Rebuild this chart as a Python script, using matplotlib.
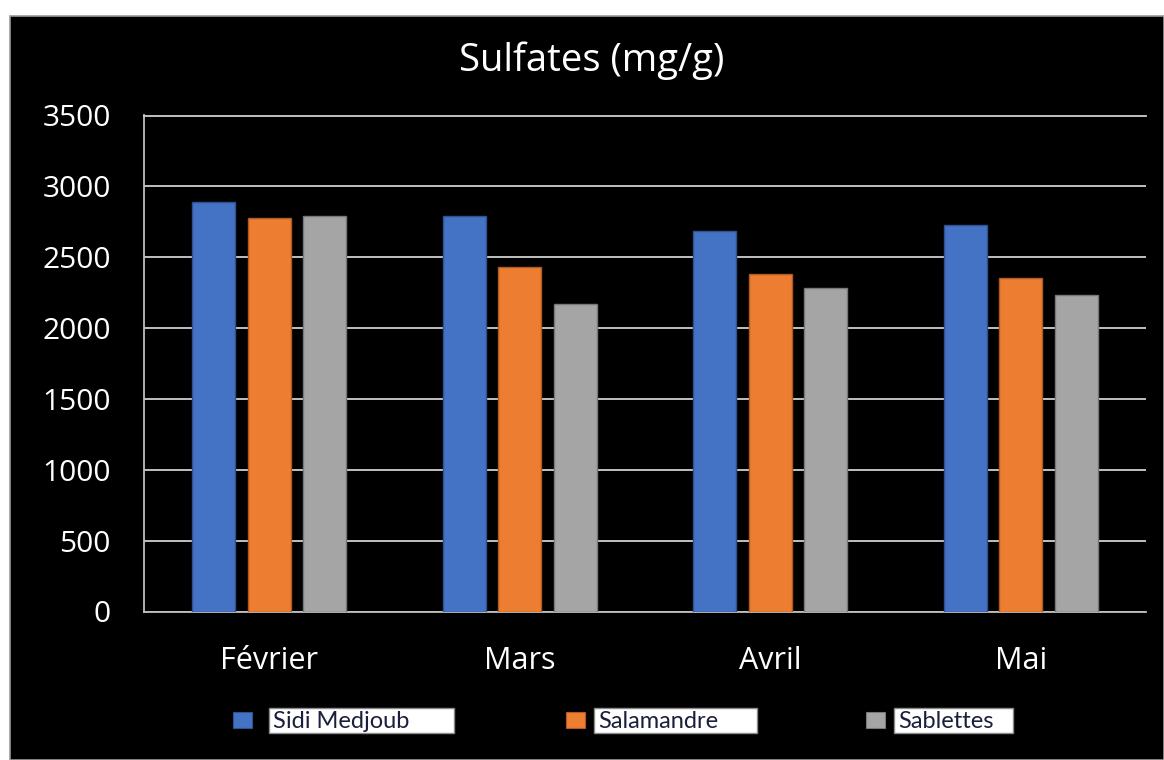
import matplotlib.pyplot as plt
from matplotlib import font_manager
from matplotlib.patches import Rectangle
import numpy as np

months = ["Février", "Mars", "Avril", "Mai"]
series = ["Sidi Medjoub", "Salamandre", "Sablettes"]
sidi_medjoub = [2890, 2790, 2685, 2730]
salamandre = [2780, 2430, 2380, 2350]
sablettes = [2790, 2170, 2280, 2235]
y_ticks = [0, 500, 1000, 1500, 2000, 2500, 3000, 3500]

fills = ["#4472C4", "#ED7D31", "#A5A5A5"]
edges = ["#2F528F", "#AE5A21", "#787878"]

plt.rcParams["font.family"] = ["Open Sans", "DejaVu Sans"]
installed = {f.name for f in font_manager.fontManager.ttflist}
legend_font = next((n for n in ["Lato", "Liberation Sans"] if n in installed), "DejaVu Sans")

W, H = 1164, 760
fig = plt.figure(figsize=(W / 100, H / 100), dpi=100)
fig.patch.set_facecolor("white")

# black chart area
fig.patches.append(Rectangle((10 / W, 0), 1 - 10 / W, 1 - 16 / H, transform=fig.transFigure,
                             facecolor="black", edgecolor="#9a9a9a", linewidth=1.2, zorder=-5))

ax = fig.add_axes([144 / W, (H - 611.5) / H, 1002 / W, 496 / H])
ax.set_facecolor("black")

x = np.arange(len(months))
width = 0.173
step = 0.2216
for i, vals in enumerate([sidi_medjoub, salamandre, sablettes]):
    ax.bar(x + (i - 1) * step, vals, width, color=fills[i], edgecolor=edges[i],
           linewidth=1.0, zorder=3, label=series[i])

ax.set_xlim(-0.5, len(months) - 0.5)
ax.set_ylim(0, 3500)
ax.set_yticks(y_ticks)
ax.set_yticklabels([str(v) for v in y_ticks])
ax.set_xticks(x)
ax.set_xticklabels(months)
ax.tick_params(axis="y", length=0, pad=24, labelsize=21.5, labelcolor="white")
ax.tick_params(axis="x", length=0, pad=25, labelsize=22, labelcolor="white")

ax.grid(True, axis="y", color="#d0d0d0", linewidth=1.3, zorder=1)
ax.spines["right"].set_visible(False)
ax.spines["top"].set_color("#d0d0d0")
ax.spines["left"].set_color("#bfbfbf")
ax.spines["bottom"].set_color("#bfbfbf")
for side in ["top", "left", "bottom"]:
    ax.spines[side].set_linewidth(1.3)

fig.text(592 / W, 1 - 71 / H, "Sulfates (mg/g)", ha="center", va="baseline",
         color="white", fontsize=27.5)

# legend: coloured squares with boxed labels
sq_left = [233, 566, 866]
box_left = [269, 594, 894]
box_right = [454, 757, 1013]
for i, name in enumerate(series):
    fig.patches.append(Rectangle((sq_left[i] / W, 1 - 728 / H), 19 / W, 16 / H,
                                 transform=fig.transFigure, facecolor=fills[i],
                                 edgecolor=edges[i], linewidth=0.8, zorder=3))
    fig.patches.append(Rectangle((box_left[i] / W, 1 - 733 / H), (box_right[i] - box_left[i]) / W,
                                 25 / H, transform=fig.transFigure, facecolor="white",
                                 edgecolor="#8a8a8a", linewidth=1, zorder=3))
    fig.text((box_left[i] + 4) / W, 1 - 727.5 / H, name, ha="left", va="baseline", fontsize=17,
             color="#1b1f3b", family=[legend_font, "DejaVu Sans"], zorder=4)

fig.savefig("out.png", dpi=100)
